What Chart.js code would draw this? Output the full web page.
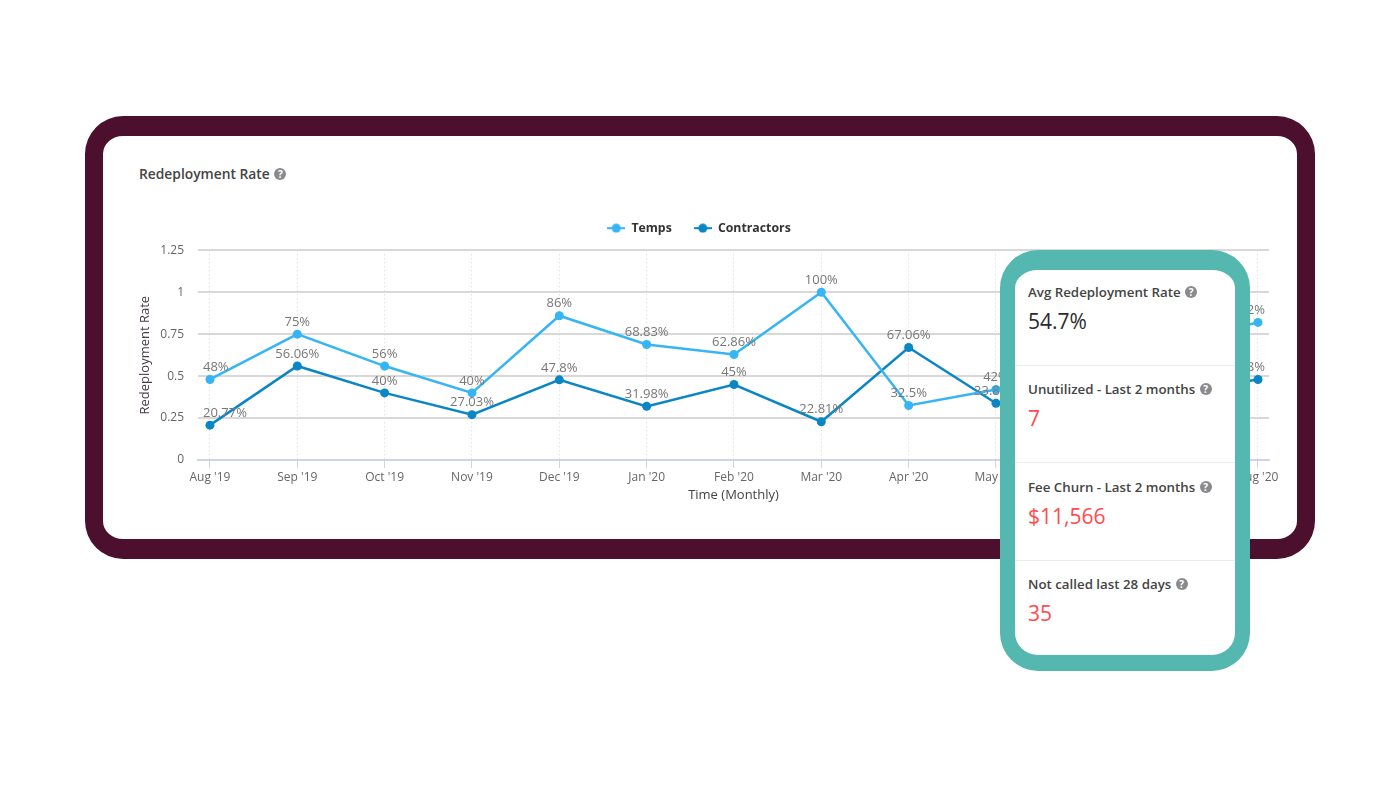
<!DOCTYPE html>
<html>
<head>
<meta charset="utf-8">
<script src="https://cdn.jsdelivr.net/npm/chart.js@4"></script>
<style>
  html, body { margin: 0; padding: 0; background: #fff; }
  body { width: 1400px; height: 788px; position: relative; overflow: hidden; font-family: "Open Sans", sans-serif; }
  #frame { position: absolute; left: 85px; top: 116px; width: 1194px; height: 403px; border: solid #4c0f2d; border-width: 20px 18px; border-radius: 38px; background: #fff; }
  #title { position: absolute; left: 139px; top: 164px; font-size: 13.8px; font-weight: 600; color: #444; line-height: 20px; white-space: nowrap; }
  #chartBox { position: absolute; left: 129px; top: 200px; width: 1188px; height: 303px; }
  #panel { position: absolute; left: 1000px; top: 250px; width: 220px; height: 385px; border: solid #54b7b0; border-width: 20px 15px 16px 15px; border-radius: 38px; background: #fff; }
  .cell { position: absolute; left: 0; width: 220px; height: 95px; border-bottom: 1px solid #ececec; }
  .cell:last-child { border-bottom: 0; }
  .cell .name { position: absolute; left: 13px; top: 12px; font-size: 13.3px; font-weight: 600; color: #444; line-height: 20px; white-space: nowrap; }
  .cell .val { position: absolute; left: 13px; top: 36px; font-size: 21px; line-height: 30px; color: #ff4a4f; white-space: nowrap; }
  .cell .val.dark { color: #2b2b2b; }
  .q { display: inline-block; width: 12px; height: 12px; border-radius: 50%; background: #8a8a8e; color: #fff; font-size: 10px; font-weight: 700; line-height: 12px; text-align: center; vertical-align: 1px; margin-left: 1px; }
</style>
</head>
<body>
<div id="frame"></div>
<div id="title">Redeployment Rate <span class="q">?</span></div>
<div id="chartBox"><canvas id="myChart"></canvas></div>
<div id="panel"></div>
<script>
var months = ["Aug '19", "Sep '19", "Oct '19", "Nov '19", "Dec '19", "Jan '20", "Feb '20", "Mar '20", "Apr '20", "May '20", "Jun '20", "Jul '20", "Aug '20"];
// Jun and Jul sit behind the teal panel in the picture, so those two are guesses
var temps = [48, 75, 56, 40, 86, 68.83, 62.86, 100, 32.5, 42, 58, 70, 82];
var contractors = [20.77, 56.06, 40, 27.03, 47.8, 31.98, 45, 22.81, 67.06, 33.83, 44, 40, 48];
var yTicks = [0, 0.25, 0.5, 0.75, 1, 1.25];
var statNames = ["Avg Redeployment Rate", "Unutilized - Last 2 months", "Fee Churn - Last 2 months", "Not called last 28 days"];
var statValues = ["54.7%", "7", "$11,566", "35"];

var tempColor = "#35b5f5";
var contractorColor = "#0a86c7";

var panel = document.getElementById("panel");
statNames.forEach(function (name, i) {
  var cell = document.createElement("div");
  cell.className = "cell";
  cell.style.top = (i * 97.3) + "px";
  cell.innerHTML = '<div class="name">' + name + ' <span class="q">?</span></div>' +
    '<div class="val' + (i == 0 ? ' dark' : '') + '">' + statValues[i] + '</div>';
  panel.appendChild(cell);
});

// legend symbol: short line with a dot on it
function legendMark(color) {
  var c = document.createElement("canvas");
  c.width = 18; c.height = 10;
  var g = c.getContext("2d");
  g.strokeStyle = color; g.lineWidth = 2;
  g.beginPath(); g.moveTo(0, 5); g.lineTo(18, 5); g.stroke();
  g.fillStyle = color;
  g.beginPath(); g.arc(9, 5, 4.5, 0, Math.PI * 2); g.fill();
  return c;
}

function toPoints(values) {
  return values.map(function (v, i) { return { x: i, y: v / 100 }; });
}

// value labels stay inside the plot at both ends
var pointLabels = {
  id: "pointLabels",
  afterDatasetsDraw: function (chart) {
    var ctx = chart.ctx;
    ctx.save();
    ctx.font = '13px "Open Sans"';
    ctx.fillStyle = "#777";
    ctx.textAlign = "left";
    ctx.textBaseline = "middle";
    chart.data.datasets.forEach(function (ds, d) {
      chart.getDatasetMeta(d).data.forEach(function (pt, i) {
        var text = ds.data[i].y * 100;
        text = (Math.round(text * 100) / 100) + "%";
        var w = ctx.measureText(text).width;
        var left = Math.max(pt.x - w / 2, chart.chartArea.left + 5);
        left = Math.min(left, chart.chartArea.right - 4 - w);
        ctx.fillText(text, left, pt.y - 12);
      });
    });
    ctx.restore();
  }
};

var chart = new Chart(document.getElementById("myChart"), {
  type: "line",
  plugins: [pointLabels],
  data: {
    datasets: [{
      label: "Temps",
      data: toPoints(temps),
      borderColor: tempColor,
      backgroundColor: tempColor,
      borderWidth: 2.5,
      pointRadius: 4.5,
      pointHoverRadius: 4.5,
      pointBorderWidth: 0,
      pointStyle: "circle",
      tension: 0
    }, {
      label: "Contractors",
      data: toPoints(contractors),
      borderColor: contractorColor,
      backgroundColor: contractorColor,
      borderWidth: 2.5,
      pointRadius: 4.5,
      pointHoverRadius: 4.5,
      pointBorderWidth: 0,
      pointStyle: "circle",
      tension: 0
    }]
  },
  options: {
    responsive: true,
    maintainAspectRatio: false,
    animation: false,
    layout: { padding: { top: 0, right: 48, left: 0, bottom: 0 } },
    plugins: {
      tooltip: { enabled: false },
      legend: {
        position: "top",
        labels: {
          usePointStyle: true,
          pointStyleWidth: 18,
          boxHeight: 10,
          padding: 22,
          color: "#333",
          font: { family: "Open Sans", size: 12.3, weight: "700" },
          generateLabels: function (chart) {
            return chart.data.datasets.map(function (ds, i) {
              return {
                text: ds.label,
                pointStyle: legendMark(ds.borderColor),
                fontColor: "#333",
                lineWidth: 0,
                datasetIndex: i
              };
            });
          }
        }
      }
    },
    scales: {
      x: {
        type: "linear",
        min: -0.137,
        max: 12.126,
        afterBuildTicks: function (scale) {
          scale.ticks = months.map(function (m, i) { return { value: i }; });
        },
        afterFit: function (scale) { scale.height = 43; },
        grid: {
          color: "#d5d5d5",
          lineWidth: 1,
          tickLength: 8,
          tickColor: "#ccd6eb",
          tickBorderDash: [],
          drawTicks: true
        },
        border: { color: "#ccd6eb", width: 2, dash: [1, 3] },
        ticks: {
          autoSkip: false,
          maxRotation: 0,
          color: "#666",
          padding: 2,
          font: { family: "Open Sans", size: 12 },
          callback: function (v) { return months[v]; }
        },
        title: {
          display: true,
          text: "Time (Monthly)",
          color: "#444",
          padding: { top: 1, bottom: 0 },
          font: { family: "Open Sans", size: 13 }
        }
      },
      y: {
        min: 0,
        max: 1.25,
        afterBuildTicks: function (scale) {
          scale.ticks = yTicks.map(function (v) { return { value: v }; });
        },
        afterFit: function (scale) { scale.width = 69; },
        grid: { color: "#d8d8d8", lineWidth: 2, drawTicks: false },
        border: { display: false },
        ticks: {
          color: "#666",
          padding: 14,
          font: { family: "Open Sans", size: 12 },
          callback: function (v) { return String(v); }
        },
        title: {
          display: true,
          text: "Redeployment Rate",
          color: "#4a3a4a",
          padding: { top: 8, bottom: 0 },
          font: { family: "Open Sans", size: 13 }
        }
      }
    }
  }
});

// a bit more room between legend and plot than the legend asks for
var legendFit = chart.legend.fit;
chart.legend.fit = function () {
  legendFit.call(this);
  this.height += 6;
};
chart.update();
</script>
</body>
</html>
